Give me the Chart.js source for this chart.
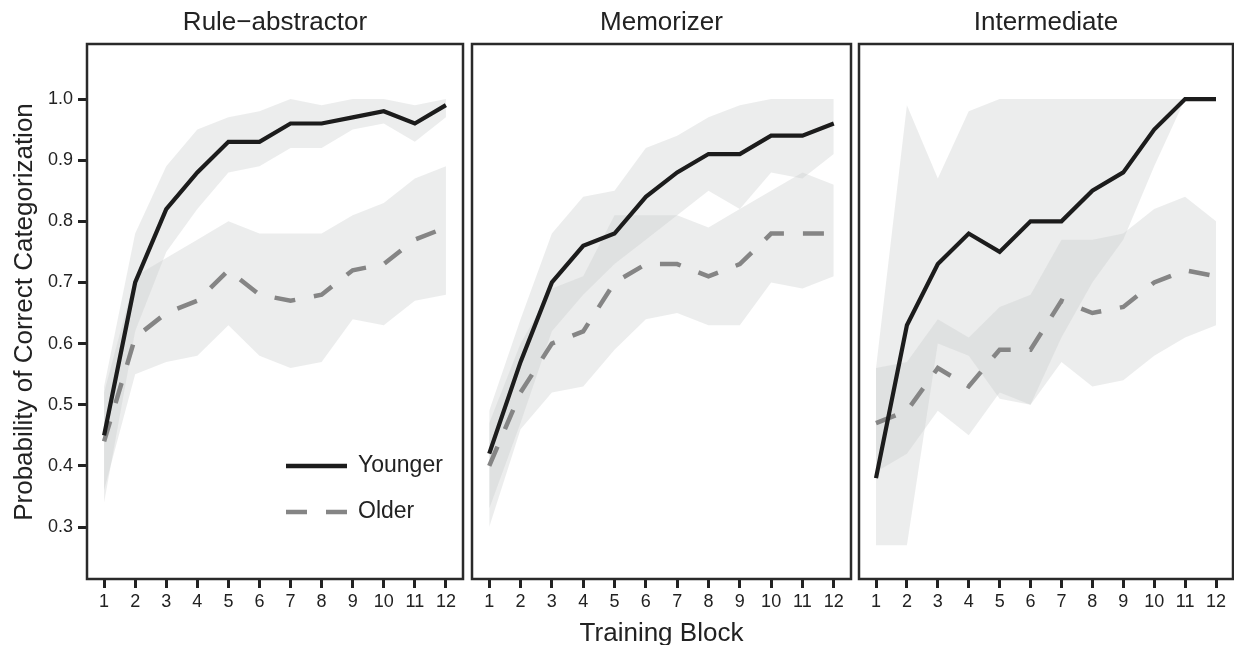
<!DOCTYPE html>
<html>
<head>
<script src="https://cdn.jsdelivr.net/npm/chart.js@4.4.1/dist/chart.umd.min.js"></script>
<style>
body { margin: 0; background: #fff; }
#wrap { position: relative; width: 1234px; height: 645px; overflow: hidden; font-family: "Liberation Sans", Arial, sans-serif; color: #222; }
canvas { position: absolute; top: 0; }
.title { position: absolute; font-size: 26px; line-height: 26px; height: 26px; text-align: center; white-space: nowrap; }
</style>
</head>
<body>
<div id="wrap">
    <canvas id="rule" width="470" height="645" style="left:0px"></canvas>
    <canvas id="mem" width="395" height="645" style="left:465px"></canvas>
    <canvas id="inter" width="382" height="645" style="left:852px"></canvas>
    <div class="title" style="left:87px;width:376px;top:8px">Rule−abstractor</div>
    <div class="title" style="left:472px;width:379px;top:8px">Memorizer</div>
    <div class="title" style="left:859px;width:374px;top:8px">Intermediate</div>
    <div class="title" style="left:472px;width:379px;top:619px">Training Block</div>
    <div class="title" style="left:-247.5px;width:540px;top:298.5px;transform:rotate(-90deg)">Probability of Correct Categorization</div>
</div>
<script>
// training blocks and y ticks
const blocks = [1, 2, 3, 4, 5, 6, 7, 8, 9, 10, 11, 12];
const yTickValues = [0.3, 0.4, 0.5, 0.6, 0.7, 0.8, 0.9, 1.0];
const seriesNames = ['Younger', 'Older'];

// Rule-abstractor
const ruleYounger   = [0.45, 0.70, 0.82, 0.88, 0.93, 0.93, 0.96, 0.96, 0.97, 0.98, 0.96, 0.99];
const ruleOlder     = [0.44, 0.61, 0.65, 0.67, 0.72, 0.68, 0.67, 0.68, 0.72, 0.73, 0.77, 0.79];
const ruleYoungerHi = [0.53, 0.78, 0.89, 0.95, 0.97, 0.98, 1.00, 0.99, 1.00, 1.00, 0.99, 1.00];
const ruleYoungerLo = [0.34, 0.62, 0.75, 0.82, 0.88, 0.89, 0.92, 0.92, 0.95, 0.96, 0.93, 0.97];
const ruleOlderHi   = [0.52, 0.71, 0.74, 0.77, 0.80, 0.78, 0.78, 0.78, 0.81, 0.83, 0.87, 0.89];
const ruleOlderLo   = [0.36, 0.55, 0.57, 0.58, 0.63, 0.58, 0.56, 0.57, 0.64, 0.63, 0.67, 0.68];

// Memorizer
const memYounger   = [0.42, 0.57, 0.70, 0.76, 0.78, 0.84, 0.88, 0.91, 0.91, 0.94, 0.94, 0.96];
const memOlder     = [0.40, 0.52, 0.60, 0.62, 0.70, 0.73, 0.73, 0.71, 0.73, 0.78, 0.78, 0.78];
const memYoungerHi = [0.49, 0.64, 0.78, 0.84, 0.85, 0.92, 0.94, 0.97, 0.99, 1.00, 1.00, 1.00];
const memYoungerLo = [0.33, 0.47, 0.62, 0.68, 0.73, 0.77, 0.81, 0.85, 0.82, 0.88, 0.87, 0.91];
const memOlderHi   = [0.47, 0.60, 0.69, 0.71, 0.81, 0.81, 0.81, 0.79, 0.82, 0.85, 0.88, 0.86];
const memOlderLo   = [0.30, 0.46, 0.52, 0.53, 0.59, 0.64, 0.65, 0.63, 0.63, 0.70, 0.69, 0.71];

// Intermediate
const interYounger   = [0.38, 0.63, 0.73, 0.78, 0.75, 0.80, 0.80, 0.85, 0.88, 0.95, 1.00, 1.00];
const interOlder     = [0.47, 0.49, 0.56, 0.53, 0.59, 0.59, 0.67, 0.65, 0.66, 0.70, 0.72, 0.71];
const interYoungerHi = [0.56, 0.99, 0.87, 0.98, 1.00, 1.00, 1.00, 1.00, 1.00, 1.00, 1.00, 1.00];
const interYoungerLo = [0.27, 0.27, 0.60, 0.58, 0.51, 0.50, 0.61, 0.70, 0.77, 0.89, 1.00, 1.00];
const interOlderHi   = [0.56, 0.57, 0.64, 0.61, 0.66, 0.68, 0.77, 0.77, 0.78, 0.82, 0.84, 0.80];
const interOlderLo   = [0.39, 0.42, 0.49, 0.45, 0.52, 0.50, 0.57, 0.53, 0.54, 0.58, 0.61, 0.63];

const BAND = 'rgba(200,203,202,0.35)';
const YOUNG_COLOR = '#1c1c1c';
const OLD_COLOR = '#858585';
const OLD_DASH = [21, 19];

const pts = vals => blocks.map((b, i) => ({ x: b, y: vals[i] }));

// box around the plot area
const frame = {
    id: 'frame',
    afterDatasetsDraw(chart) {
        const { ctx, chartArea: a } = chart;
        ctx.save();
        ctx.lineWidth = 2.5;
        ctx.strokeStyle = '#2a2a2a';
        ctx.strokeRect(a.left, a.top, a.right - a.left, a.bottom - a.top);
        ctx.restore();
    }
};

// legend drawn inside the first panel
const inLegend = {
    id: 'inLegend',
    afterDatasetsDraw(chart) {
        const ctx = chart.ctx;
        const rows = [
            { label: chart.data.datasets[0].label, color: YOUNG_COLOR, width: 4.5, dash: [], y: 466 },
            { label: chart.data.datasets[1].label, color: OLD_COLOR, width: 4.5, dash: OLD_DASH, y: 512 }
        ];
        ctx.save();
        rows.forEach(r => {
            ctx.beginPath();
            ctx.setLineDash(r.dash);
            ctx.lineWidth = r.width;
            ctx.strokeStyle = r.color;
            ctx.moveTo(286, r.y);
            ctx.lineTo(347, r.y);
            ctx.stroke();
            ctx.setLineDash([]);
            ctx.fillStyle = '#222';
            ctx.font = '23px "Liberation Sans", Arial, sans-serif';
            ctx.textBaseline = 'middle';
            ctx.fillText(r.label, 358, r.y);
        });
        ctx.restore();
    }
};

function makePanel(id, young, old, yHi, yLo, oHi, oLo, showY, pad, plugins) {
    new Chart(document.getElementById(id), {
        type: 'line',
        data: {
            datasets: [
                { label: seriesNames[0], data: pts(young), borderColor: YOUNG_COLOR, borderWidth: 4.2, pointRadius: 0, fill: false, tension: 0 },
                { label: seriesNames[1], data: pts(old), borderColor: OLD_COLOR, borderWidth: 4.5, borderDash: OLD_DASH, pointRadius: 0, fill: false, tension: 0 },
                { label: 'yHi', data: pts(yHi), borderColor: 'rgba(0,0,0,0)', borderWidth: 0, backgroundColor: BAND, pointRadius: 0, fill: '+1', tension: 0 },
                { label: 'yLo', data: pts(yLo), borderColor: 'rgba(0,0,0,0)', borderWidth: 0, pointRadius: 0, fill: false, tension: 0 },
                { label: 'oHi', data: pts(oHi), borderColor: 'rgba(0,0,0,0)', borderWidth: 0, backgroundColor: BAND, pointRadius: 0, fill: '+1', tension: 0 },
                { label: 'oLo', data: pts(oLo), borderColor: 'rgba(0,0,0,0)', borderWidth: 0, pointRadius: 0, fill: false, tension: 0 }
            ]
        },
        options: {
            responsive: false,
            animation: false,
            events: [],
            layout: { padding: pad },
            plugins: { legend: { display: false }, tooltip: { enabled: false } },
            scales: {
                x: {
                    type: 'linear',
                    min: 0.45,
                    max: 12.55,
                    afterBuildTicks: s => { s.ticks = blocks.map(v => ({ value: v })); },
                    afterFit: s => { s.height = 66; },
                    border: { display: false },
                    grid: { drawOnChartArea: false, drawTicks: true, tickLength: 9, tickColor: '#222', tickWidth: 3 },
                    ticks: { color: '#222', padding: 3, maxRotation: 0, autoSkip: false, font: { family: '"Liberation Sans", Arial, sans-serif', size: 18 } }
                },
                y: {
                    display: showY,
                    min: 0.215,
                    max: 1.09,
                    afterBuildTicks: s => { s.ticks = yTickValues.map(v => ({ value: v })); },
                    afterFit: s => { s.width = showY ? 87 : 0; },
                    border: { display: false },
                    grid: { drawOnChartArea: false, drawTicks: true, tickLength: 9, tickColor: '#222', tickWidth: 3 },
                    ticks: { color: '#222', padding: 5, callback: v => v.toFixed(1), font: { family: '"Liberation Sans", Arial, sans-serif', size: 18 } }
                }
            }
        },
        plugins: plugins
    });
}

makePanel('rule', ruleYounger, ruleOlder, ruleYoungerHi, ruleYoungerLo, ruleOlderHi, ruleOlderLo, true,
    { left: 0, right: 7, top: 44, bottom: 0 }, [frame, inLegend]);
makePanel('mem', memYounger, memOlder, memYoungerHi, memYoungerLo, memOlderHi, memOlderLo, false,
    { left: 7, right: 9, top: 44, bottom: 0 }, [frame]);
makePanel('inter', interYounger, interOlder, interYoungerHi, interYoungerLo, interOlderHi, interOlderLo, false,
    { left: 7, right: 1, top: 44, bottom: 0 }, [frame]);
</script>
</body>
</html>
